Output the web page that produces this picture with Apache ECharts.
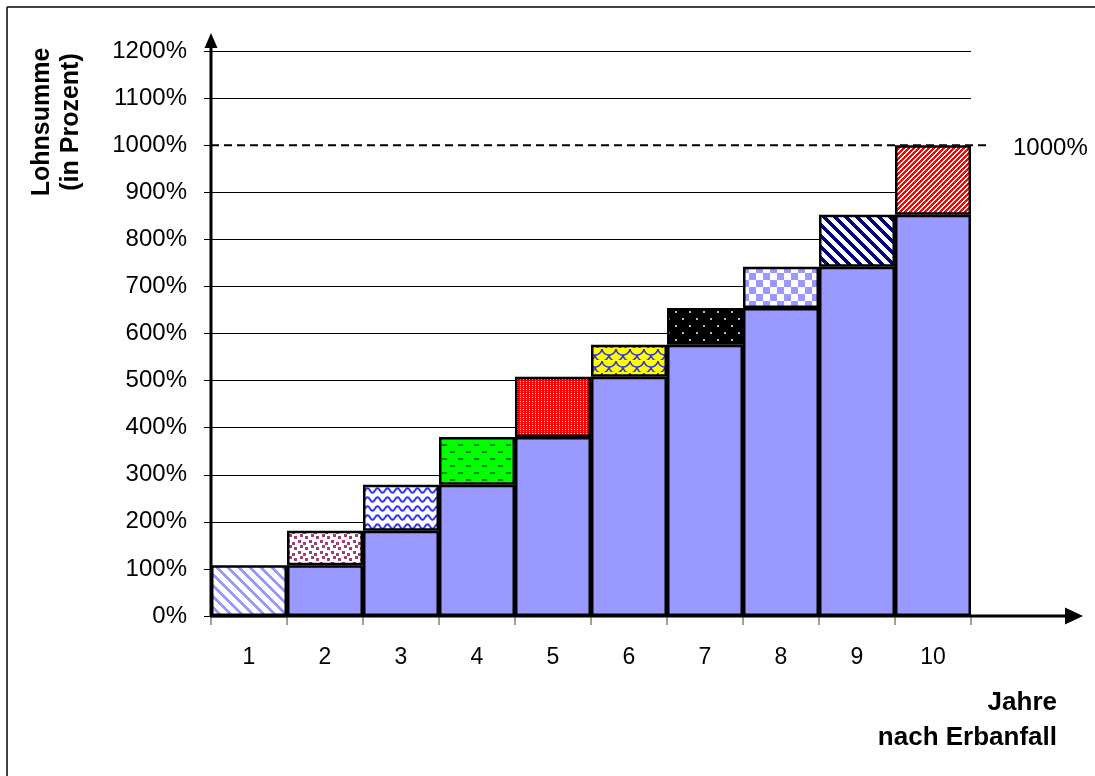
<!DOCTYPE html>
<html>
<head>
<meta charset="utf-8">
<script src="https://cdn.jsdelivr.net/npm/echarts@6/dist/echarts.min.js"></script>
<style>
html, body { margin: 0; padding: 0; background: #fff; overflow: hidden; }
#chart { width: 1095px; height: 776px; }
</style>
</head>
<body>
<div id="chart"></div>
<script>
// Years after inheritance and the cumulative payroll thresholds (in percent)
const years = ['1', '2', '3', '4', '5', '6', '7', '8', '9', '10'];
const previousTotals = [0, 108, 181, 279, 380, 508, 576, 654, 742, 852];
const yearTotals = [108, 181, 279, 380, 508, 576, 654, 742, 852, 1000];
const targetValue = 1000;
const yMin = 0, yMax = 1200, yStep = 100;

const FONT = '"Liberation Sans", Arial, Helvetica, sans-serif';
const BASE_BLUE = '#9999FF';

// ---- fill patterns for the yearly increments ----
function tile(w, h, bg, draw) {
  const c = document.createElement('canvas');
  c.width = w; c.height = h;
  const g = c.getContext('2d');
  g.fillStyle = bg; g.fillRect(0, 0, w, h);
  draw(g, w, h);
  return c;
}
// diagonal stripes; dir 1 = "/" , dir -1 = "\"
function stripes(period, width, color, bg, dir) {
  return tile(period, period, bg, (g, w, h) => {
    g.fillStyle = color;
    for (let y = 0; y < h; y++) {
      for (let x = 0; x < w; x++) {
        const k = dir > 0 ? (x + y) % period : ((x - y) % period + period) % period;
        if (k < width) g.fillRect(x, y, 1, 1);
      }
    }
  });
}
function squares(w, h, bg, color, size, spots) {
  return tile(w, h, bg, (g) => {
    g.fillStyle = color;
    spots.forEach(([x, y]) => g.fillRect(x, y, size, size));
  });
}
const patterns = [
  stripes(11, 4, BASE_BLUE, '#fff', -1),
  squares(11, 11, '#fff', '#A0406E', 3, [[1, 1], [6, 3], [3, 6], [8, 8]]),
  tile(10, 9, '#fff', (g, w) => {
    g.strokeStyle = '#3333FF'; g.lineWidth = 2;
    g.beginPath();
    for (let x = -1; x <= w + 1; x += 0.5) {
      const y = 4.5 + 2.3 * Math.sin((x / w) * Math.PI * 2);
      if (x === -1) g.moveTo(x, y); else g.lineTo(x, y);
    }
    g.stroke();
  }),
  tile(16, 14, '#00FF00', (g) => {
    g.fillStyle = '#008000';
    g.fillRect(2, 3, 5, 2);
    g.fillRect(10, 10, 5, 2);
  }),
  tile(3, 4, '#FF0000', (g) => {
    g.fillStyle = '#FFFFFF'; g.fillRect(1, 1, 1, 1);
    g.fillStyle = '#FF9A9A'; g.fillRect(1, 3, 1, 1);
  }),
  tile(14, 12, '#FFFF00', (g) => {
    g.strokeStyle = '#3333DD'; g.lineWidth = 1.5;
    [[7, 0], [0, 6], [14, 6], [7, 12]].forEach(([cx, cy]) => {
      g.beginPath(); g.arc(cx, cy, 7, 0.15, Math.PI - 0.15); g.stroke();
    });
  }),
  squares(14, 14, '#000000', '#BBBBBB', 2, [[3, 3], [10, 10]]),
  tile(14, 14, '#fff', (g) => {
    g.fillStyle = BASE_BLUE;
    g.fillRect(0, 0, 7, 7); g.fillRect(7, 7, 7, 7);
  }),
  stripes(11, 5, '#000080', '#fff', -1),
  stripes(5, 3, '#FF0000', '#fff', 1)
];

const increments = yearTotals.map((t, i) => ({
  value: t - previousTotals[i],
  itemStyle: { color: { image: patterns[i], repeat: 'repeat' } }
}));

const yTickValues = [];
for (let v = yMin; v <= yMax; v += yStep) yTickValues.push(v);
const splitColors = yTickValues.map(v => (v === targetValue ? 'rgba(0,0,0,0)' : '#000'));

const chart = echarts.init(document.getElementById('chart'), null, { renderer: 'canvas' });

const option = {
  animation: false,
  backgroundColor: '#fff',
  grid: { left: 211, right: 124, top: 51, bottom: 160, containLabel: false },
  xAxis: {
    type: 'category',
    data: years,
    boundaryGap: true,
    axisLine: { show: false },
    axisTick: { show: true, alignWithLabel: false, length: 9, lineStyle: { color: '#808080', width: 1.5 } },
    axisLabel: { color: '#000', fontSize: 23, fontFamily: FONT, margin: 30 },
    splitLine: { show: false }
  },
  yAxis: {
    type: 'value',
    min: yMin, max: yMax, interval: yStep,
    axisLine: { show: false },
    axisTick: { show: true, length: 7, lineStyle: { color: '#000', width: 1 } },
    axisLabel: { color: '#000', fontSize: 24, fontFamily: FONT, margin: 24, formatter: (v) => String(v) + '%' },
    splitLine: { show: true, lineStyle: { color: splitColors, width: 1 } }
  },
  series: [
    {
      name: 'Vorjahr',
      type: 'bar',
      stack: 'lohnsumme',
      barWidth: '100%',
      data: previousTotals,
      itemStyle: { color: BASE_BLUE, borderColor: '#000', borderWidth: 2.5 },
      silent: true
    },
    {
      name: 'Zuwachs',
      type: 'bar',
      stack: 'lohnsumme',
      barWidth: '100%',
      data: increments,
      itemStyle: { borderColor: '#000', borderWidth: 2.5 },
      silent: true
    }
  ]
};
chart.setOption(option);

// axis arrows, target line and titles
const y0 = chart.convertToPixel({ yAxisIndex: 0 }, yMin);
const yTarget = chart.convertToPixel({ yAxisIndex: 0 }, targetValue);
const yTop = chart.convertToPixel({ yAxisIndex: 0 }, yMax);
const xLeft = option.grid.left;

chart.setOption({
  graphic: [
    { type: 'line', shape: { x1: 7, y1: 7, x2: 1095, y2: 7 }, style: { stroke: '#000', lineWidth: 1.5 }, z: 100 },
    { type: 'line', shape: { x1: 7, y1: 7, x2: 7, y2: 776 }, style: { stroke: '#000', lineWidth: 1.5 }, z: 100 },
    { type: 'line', shape: { x1: xLeft, y1: yTarget, x2: 987, y2: yTarget }, style: { stroke: '#000', lineWidth: 2, lineDash: [8, 5] }, z: 100 },
    { type: 'text', x: 1013, y: yTarget + 3, style: { text: targetValue + '%', font: '24px ' + FONT, fill: '#000', textAlign: 'left', textVerticalAlign: 'middle' }, z: 100 },
    { type: 'line', shape: { x1: xLeft, y1: y0 + 1, x2: xLeft, y2: yTop - 4 }, style: { stroke: '#000', lineWidth: 3 }, z: 101 },
    { type: 'polygon', shape: { points: [[xLeft, yTop - 18], [xLeft - 6.5, yTop - 3], [xLeft + 6.5, yTop - 3]] }, style: { fill: '#000' }, z: 101 },
    { type: 'line', shape: { x1: xLeft - 1, y1: y0, x2: 1066, y2: y0 }, style: { stroke: '#000', lineWidth: 3 }, z: 101 },
    { type: 'polygon', shape: { points: [[1083, y0], [1065, y0 - 8.5], [1065, y0 + 8.5]] }, style: { fill: '#000' }, z: 101 },
    { type: 'text', x: 57, y: 122, rotation: Math.PI / 2,
      style: { text: 'Lohnsumme\n(in Prozent)', font: 'bold 25px ' + FONT, fill: '#000', textAlign: 'center', textVerticalAlign: 'middle', lineHeight: 29 }, z: 100 },
    { type: 'text', x: 1057, y: 720,
      style: { text: 'Jahre\nnach Erbanfall', font: 'bold 26px ' + FONT, fill: '#000', textAlign: 'right', textVerticalAlign: 'middle', lineHeight: 35 }, z: 100 }
  ]
});
</script>
</body>
</html>
